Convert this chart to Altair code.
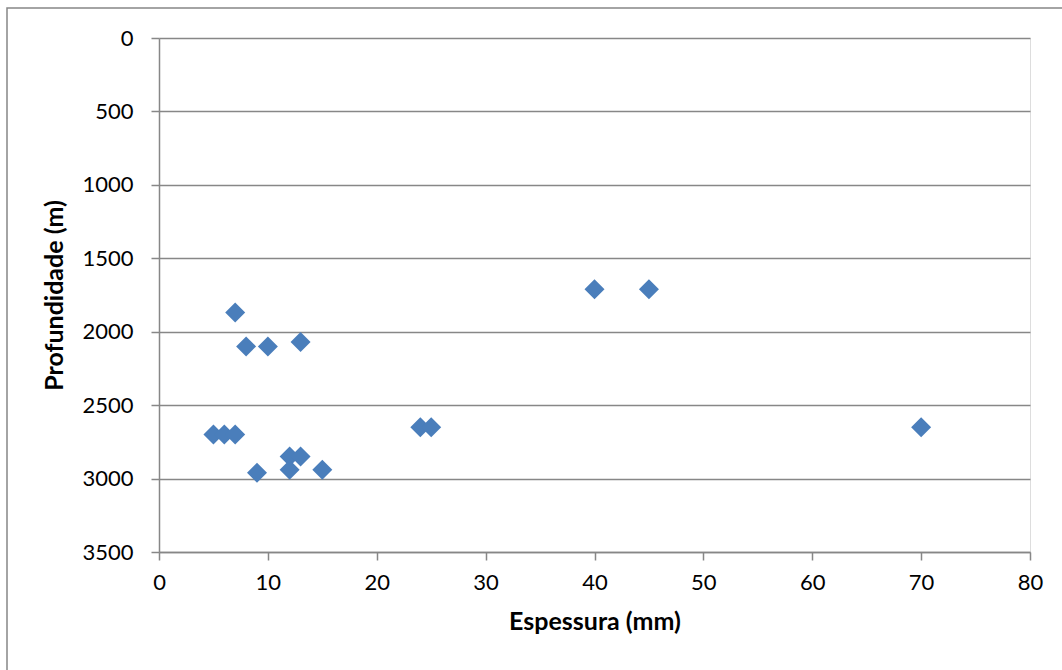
import altair as alt
import pandas as pd

espessura = [7, 8, 10, 13, 40, 45, 5, 6, 7, 9, 12, 13, 12, 15, 24, 25, 70]
profundidade = [1870, 2100, 2100, 2070, 1710, 1710, 2700, 2700, 2700, 2960, 2850, 2850, 2940, 2940, 2650, 2650, 2650]

x_ticks = [0, 10, 20, 30, 40, 50, 60, 70, 80]
y_ticks = [0, 500, 1000, 1500, 2000, 2500, 3000, 3500]

df = pd.DataFrame({"Espessura": espessura, "Profundidade": profundidade})

W, H = 871, 514
FONT = "Lato"
GRAY = "#878787"

points = alt.Chart(df).mark_point(
    shape="diamond", filled=True, size=400, color="#4a7ebb", opacity=1
).encode(
    x=alt.X("Espessura:Q",
            scale=alt.Scale(domain=[0, 80], nice=False, zero=True),
            axis=alt.Axis(values=x_ticks, title="Espessura (mm)", grid=False, format="d",
                          domainColor=GRAY, domainWidth=1.5, tickColor=GRAY, tickWidth=1.5,
                          tickSize=8, labelPadding=12, labelFontSize=22, labelFont=FONT,
                          labelColor="#000000", titleFont=FONT, titleFontSize=25,
                          titleFontWeight="bold", titleColor="#000000", titlePadding=16,
                          labelFlush=False)),
    y=alt.Y("Profundidade:Q",
            scale=alt.Scale(domain=[0, 3500], reverse=True, nice=False),
            axis=alt.Axis(values=y_ticks, title="Profundidade (m)", grid=True, format="d",
                          gridColor=GRAY, gridWidth=1.5,
                          domainColor=GRAY, domainWidth=1.5, tickColor=GRAY, tickWidth=1.5,
                          tickSize=8, labelPadding=18, labelFontSize=22, labelFont=FONT,
                          labelColor="#000000", titleFont=FONT, titleFontSize=25,
                          titleFontWeight="bold", titleColor="#000000", titlePadding=14,
                          labelFlush=False)),
)

border = alt.Chart(alt.Data(values=[{"a": 1}])).mark_rect(
    fill=None, stroke=GRAY, strokeWidth=1.5
).encode(
    x=alt.value(-152), x2=alt.value(W + 60),
    y=alt.value(-30), y2=alt.value(H + 150),
)

chart = alt.layer(border, points).properties(
    width=W, height=H,
    autosize=alt.AutoSizeParams(type="none"),
    padding={"left": 159, "top": 38, "right": 32, "bottom": 118},
).configure_view(stroke=None).configure(background="white")

chart.save("out.html", embed_options={"renderer": "svg", "actions": False})
